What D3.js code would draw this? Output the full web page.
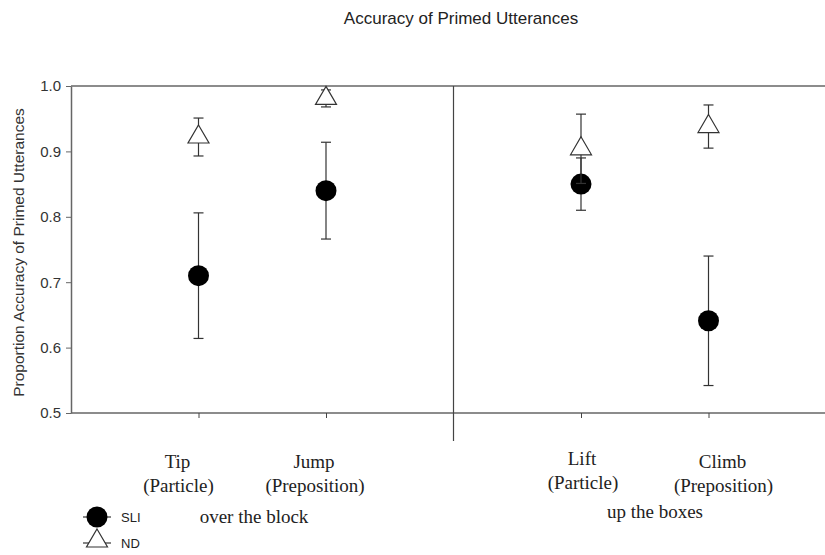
<!DOCTYPE html>
<html>
<head>
<meta charset="utf-8">
<script src="https://cdn.jsdelivr.net/npm/d3@7"></script>
<style>
body { margin: 0; background: #fff; }
svg { display: block; }
</style>
</head>
<body>
<svg id="chart" width="825" height="555"></svg>
<script>
// categories (verb / construction) and the two prime phrases
var verbs = ["Tip", "Jump", "Lift", "Climb"];
var kinds = ["(Particle)", "(Preposition)", "(Particle)", "(Preposition)"];
var verbSlot = [1, 2, 4, 5];
var phrases = ["over the block", "up the boxes"];

// series values
var sliMean = [0.710, 0.840, 0.850, 0.641];
var sliErr  = [0.096, 0.074, 0.040, 0.099];
var ndMean  = [0.922, 0.981, 0.904, 0.938];
var ndErr   = [0.029, 0.013, 0.053, 0.033];

var yTicks = [0.5, 0.6, 0.7, 0.8, 0.9, 1.0];

var svg = d3.select("#chart");
var plotLeft = 71, plotTop = 86, plotBottom = 413;

var x = d3.scaleLinear().domain([0, 6]).range([71, 836]);
var y = d3.scaleLinear().domain([0.5, 1.0]).range([plotBottom, plotTop]);

var axisColor = "#666";
var sans = "Liberation Sans, Arial, sans-serif";
var serif = "Liberation Serif, Times New Roman, serif";

//title
svg.append("text")
	.attr("x", 461)
	.attr("y", 24)
	.attr("text-anchor", "middle")
	.style("font-family", sans)
	.style("font-size", "17px")
	.style("fill", "#222")
	.text("Accuracy of Primed Utterances");

//y axis
var yAxis = svg.append("g")
	.attr("transform", "translate(" + plotLeft + ",0)")
	.call(d3.axisLeft(y).tickValues(yTicks).tickFormat(d3.format(".1f")).tickSizeInner(5).tickSizeOuter(0).tickPadding(5));
yAxis.select(".domain").style("stroke", axisColor).style("stroke-width", 1.5);
yAxis.selectAll(".tick line").style("stroke", axisColor);
yAxis.selectAll(".tick text")
	.style("font-family", sans)
	.style("font-size", "15px")
	.style("fill", "#333");

//x axis (ticks only, no labels)
var xAxis = svg.append("g")
	.attr("transform", "translate(0," + plotBottom + ")")
	.call(d3.axisBottom(x).tickValues(verbSlot).tickFormat("").tickSizeInner(5).tickSizeOuter(0));
xAxis.select(".domain").style("stroke", axisColor).style("stroke-width", 1.5)
	.attr("d", "M" + plotLeft + ",0H825");
xAxis.selectAll(".tick line").style("stroke", "#444");

//top frame line
svg.append("line")
	.attr("x1", plotLeft).attr("y1", plotTop)
	.attr("x2", 825).attr("y2", plotTop)
	.style("stroke", axisColor)
	.style("stroke-width", 1.5);

//divider between the two phrases
svg.append("line")
	.attr("x1", x(3)).attr("y1", plotTop)
	.attr("x2", x(3)).attr("y2", 441)
	.style("stroke", "#444")
	.style("stroke-width", 1.2);

//y axis title
svg.append("text")
	.attr("transform", "translate(24," + ((plotTop + plotBottom) / 2 + 3) + ") rotate(-90)")
	.attr("text-anchor", "middle")
	.style("font-family", sans)
	.style("font-size", "15.5px")
	.style("fill", "#333")
	.text("Proportion Accuracy of Primed Utterances");

//error bars
function errorBars(means, errs, cls)
{
	var g = svg.append("g").attr("class", cls);
	means.forEach(function(m, i) {
		var cx = x(verbSlot[i]);
		var lo = y(m - errs[i]), hi = y(m + errs[i]);
		g.append("line").attr("x1", cx).attr("x2", cx).attr("y1", lo).attr("y2", hi);
		g.append("line").attr("x1", cx - 5).attr("x2", cx + 5).attr("y1", lo).attr("y2", lo);
		g.append("line").attr("x1", cx - 5).attr("x2", cx + 5).attr("y1", hi).attr("y2", hi);
	});
	g.selectAll("line").style("stroke", "#333").style("stroke-width", 1.2);
}

var triangle = "M0,-12L10.5,6L-10.5,6Z";

errorBars(sliMean, sliErr, "sliBars");
svg.append("g").selectAll("circle")
	.data(sliMean)
	.join("circle")
	.attr("cx", function(d, i) { return x(verbSlot[i]); })
	.attr("cy", function(d) { return y(d); })
	.attr("r", 10.5)
	.style("fill", "#000");

errorBars(ndMean, ndErr, "ndBars");
svg.append("g").selectAll("path")
	.data(ndMean)
	.join("path")
	.attr("d", triangle)
	.attr("transform", function(d, i) { return "translate(" + x(verbSlot[i]) + "," + y(d) + ")"; })
	.style("fill", "#fff")
	.style("stroke", "#333")
	.style("stroke-width", 1.2);

//category labels (hand placed under the ticks, as in the figure)
var labelShift = [-21, -12, 1, 14];
verbs.forEach(function(v, i) {
	var cx = x(verbSlot[i]) + labelShift[i];
	var lift = (i == 2) ? -3 : 0;
	svg.append("text")
		.attr("x", cx).attr("y", 468 + lift)
		.attr("text-anchor", "middle")
		.style("font-family", serif).style("font-size", "19px").style("fill", "#222")
		.text(v);
	svg.append("text")
		.attr("x", cx + 1).attr("y", 492 + lift)
		.attr("text-anchor", "middle")
		.style("font-family", serif).style("font-size", "19px").style("fill", "#222")
		.text(kinds[i]);
});

svg.append("text")
	.attr("x", 254).attr("y", 523)
	.attr("text-anchor", "middle")
	.style("font-family", serif).style("font-size", "19px").style("fill", "#222")
	.text(phrases[0]);
svg.append("text")
	.attr("x", 655).attr("y", 518)
	.attr("text-anchor", "middle")
	.style("font-family", serif).style("font-size", "19px").style("fill", "#222")
	.text(phrases[1]);

//legend
var legend = svg.append("g").attr("transform", "translate(97,0)");
[517, 543].forEach(function(ly) {
	legend.append("line")
		.attr("x1", -14).attr("x2", 14)
		.attr("y1", ly).attr("y2", ly)
		.style("stroke", "#333").style("stroke-width", 1.2);
});
legend.append("circle")
	.attr("cx", 0).attr("cy", 517).attr("r", 10.5)
	.style("fill", "#000");
legend.append("path")
	.attr("d", triangle)
	.attr("transform", "translate(0,541)")
	.style("fill", "#fff").style("stroke", "#333").style("stroke-width", 1.2);
legend.append("text")
	.attr("x", 24).attr("y", 522)
	.style("font-family", sans).style("font-size", "13px").style("fill", "#222")
	.text("SLI");
legend.append("text")
	.attr("x", 24).attr("y", 548)
	.style("font-family", sans).style("font-size", "13px").style("fill", "#222")
	.text("ND");
</script>
</body>
</html>
